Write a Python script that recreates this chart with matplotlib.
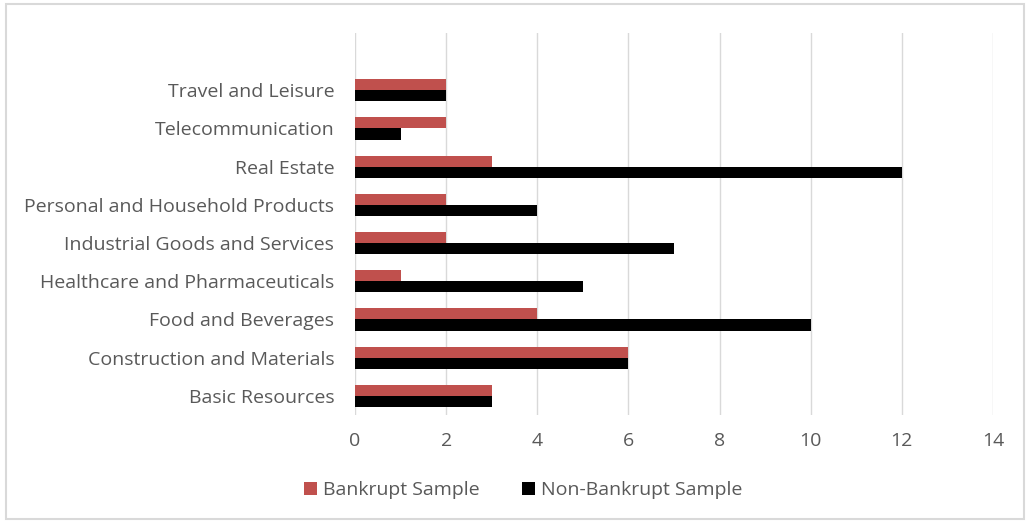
import matplotlib.pyplot as plt
import matplotlib.patches as mpatches
import numpy as np

plt.rcParams['font.family'] = ['Open Sans', 'DejaVu Sans']

categories = ['Basic Resources', 'Construction and Materials', 'Food and Beverages',
              'Healthcare and Pharmaceuticals', 'Industrial Goods and Services',
              'Personal and Household Products', 'Real Estate', 'Telecommunication',
              'Travel and Leisure']
bankrupt = [3, 6, 4, 1, 2, 2, 3, 2, 2]
non_bankrupt = [3, 6, 10, 5, 7, 4, 12, 1, 2]

fig = plt.figure(figsize=(10.3, 5.23), dpi=100)
ax = fig.add_axes([0.3447, 0.2065, 0.6193, 0.7305])

y = np.arange(len(categories))
h = 0.29
ax.barh(y + h / 2, bankrupt, height=h, color='#C0504D', label='Bankrupt Sample', zorder=3)
ax.barh(y - h / 2, non_bankrupt, height=h, color='black', label='Non-Bankrupt Sample', zorder=3)

ax.set_xlim(0, 14)
ax.set_ylim(-0.5, 9.5)
ax.set_xticks(range(0, 15, 2))
ax.set_yticks(y)
ax.set_yticklabels(categories)
ax.grid(axis='x', color='#d9d9d9', linewidth=1, zorder=0)
for s in ax.spines.values():
    s.set_visible(False)
ax.tick_params(length=0, colors='#595959', labelsize=14)
ax.tick_params(axis='x', pad=12)
ax.tick_params(axis='y', pad=15)

leg = fig.legend(loc='center', bbox_to_anchor=(0.508, 0.063), ncol=2, frameon=False,
                 fontsize=14, handlelength=0.65, handleheight=0.65, columnspacing=2.2,
                 handletextpad=0.3)
for t in leg.get_texts():
    t.set_color('#595959')

fig.patches.append(mpatches.Rectangle((6 / 1030, 4 / 523), 1018 / 1030, 515 / 523,
                                      transform=fig.transFigure, fill=False,
                                      edgecolor='#d9d9d9', linewidth=1.5))

plt.savefig('out.png', dpi=100)
